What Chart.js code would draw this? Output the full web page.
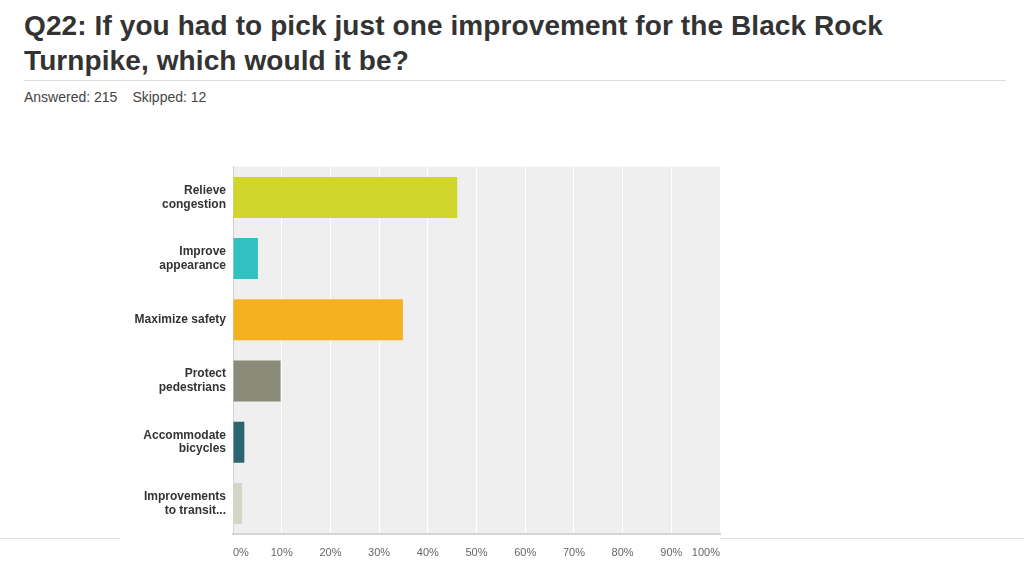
<!DOCTYPE html>
<html>
<head>
<meta charset="utf-8">
<script src="https://cdn.jsdelivr.net/npm/chart.js@4"></script>
<style>
  body { margin: 0; width: 1024px; height: 576px; background: #fff; position: relative; overflow: hidden; font-family: "Liberation Sans", Arial, sans-serif; }
  #title { position: absolute; left: 24px; top: 8px; width: 990px; font-size: 28px; font-weight: bold; color: #333; line-height: 35px; letter-spacing: 0.1px; }
  #rule { position: absolute; left: 24px; top: 80px; width: 982px; height: 1px; background: #dcdcdc; }
  #meta { position: absolute; left: 24px; top: 89px; font-size: 14px; color: #444; }
  #meta span { margin-right: 15px; }
  .baseline { position: absolute; top: 538px; height: 1px; background: #dedede; }
  #wrap { position: absolute; left: 0; top: 146px; width: 740px; height: 430px; }
</style>
</head>
<body>
<div id="title">Q22: If you had to pick just one improvement for the Black Rock<br>Turnpike, which would it be?</div>
<div id="rule"></div>
<div id="meta"><span>Answered: 215</span><span>Skipped: 12</span></div>
<div class="baseline" style="left:0;width:120px"></div>
<div class="baseline" style="left:720px;width:304px"></div>
<div id="wrap"><canvas id="chart"></canvas></div>
<script>
const answers = [
  ['Relieve', 'congestion'],
  ['Improve', 'appearance'],
  'Maximize safety',
  ['Protect', 'pedestrians'],
  ['Accommodate', 'bicycles'],
  ['Improvements', 'to transit...']
];
const percents = [46.05, 5.12, 34.88, 9.77, 2.33, 1.86];
const barColors = ['#d0d62a', '#33c0c0', '#f4b01f', '#8a8b78', '#2b6670', '#d4d5c4'];

const plotBg = {
  id: 'plotBg',
  beforeDraw(chart) {
    const { ctx, chartArea: a } = chart;
    ctx.save();
    ctx.fillStyle = '#efefef';
    ctx.fillRect(a.left, a.top, a.right - a.left, a.bottom - a.top);
    ctx.restore();
  }
};

new Chart(document.getElementById('chart'), {
  type: 'bar',
  data: {
    labels: answers,
    datasets: [{
      data: percents,
      backgroundColor: barColors,
      barPercentage: 0.67,
      categoryPercentage: 1
    }]
  },
  options: {
    indexAxis: 'y',
    responsive: true,
    maintainAspectRatio: false,
    animation: false,
    layout: { padding: { top: 14, right: 20, left: 0, bottom: 0 } },
    plugins: { legend: { display: false }, tooltip: { enabled: false } },
    scales: {
      x: {
        min: 0,
        max: 100,
        ticks: {
          stepSize: 10,
          callback: v => v + '%',
          color: '#666',
          align: 'inner',
          font: { family: 'Liberation Sans', size: 11 },
          padding: 12
        },
        grid: { color: '#ffffff', lineWidth: 1, drawTicks: false },
        border: { color: '#d6d6d6', width: 2 },
        afterFit: s => { s.height = 42; }
      },
      y: {
        ticks: {
          color: '#333',
          font: { family: 'Liberation Sans', size: 12, weight: 'bold', lineHeight: 1.15 },
          padding: 7
        },
        grid: { display: false, drawTicks: false },
        border: { color: '#d0d0d0', width: 1 },
        afterFit: s => { s.width = 233; }
      }
    }
  },
  plugins: [plotBg]
});
</script>
</body>
</html>
